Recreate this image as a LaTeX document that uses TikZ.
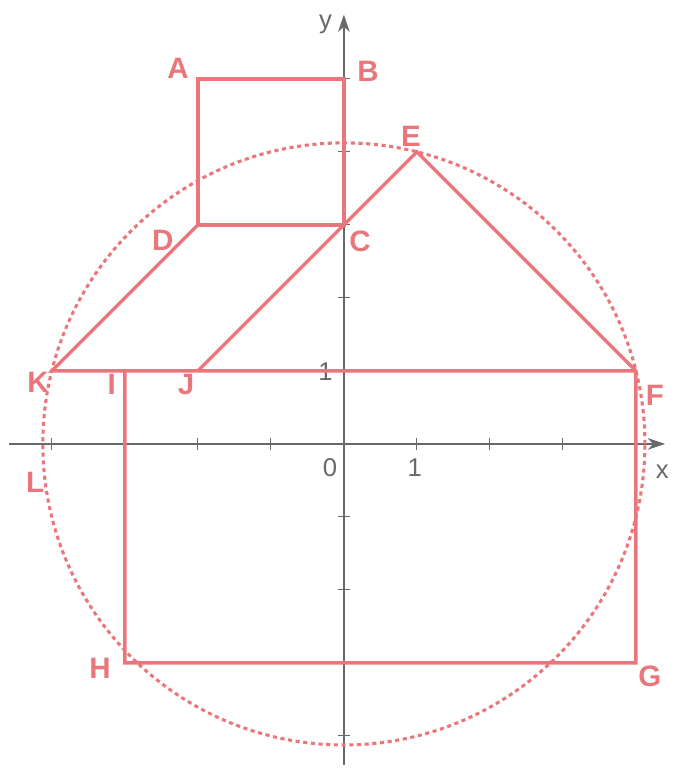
\documentclass[tikz,border=0pt]{standalone}
\usepackage{fontspec}
\setmainfont{Liberation Sans}
\usepackage{tikz}
\usetikzlibrary{arrows.meta}
\definecolor{figred}{RGB}{234, 118, 124}
\definecolor{axisgray}{RGB}{105, 105, 105}

\begin{document}
\begin{tikzpicture}[
    figline/.style={figred, line width=1.35pt},
    ptlabel/.style={text=figred, font=\bfseries\fontsize{11.5}{13}\selectfont, inner sep=1pt},
    axlabel/.style={text=axisgray, font=\fontsize{10}{12}\selectfont, inner sep=1pt}
  ]
    \useasboundingbox (-4.71,-4.48) rectangle (4.51,6.08);

    % Axes
    \coordinate (O) at (0,0);
    \coordinate (xs) at (-4.58,0);
    \coordinate (xe) at (4.40,0);
    \coordinate (ys) at (0,-4.40);
    \coordinate (ye) at (0,5.88);
    \draw[axisgray, line width=0.5pt, -{Stealth[length=2.4mm, width=1.6mm]}] (xs) -- (xe);
    \draw[axisgray, line width=0.5pt, -{Stealth[length=2.4mm, width=1.6mm]}] (ys) -- (ye);
    \foreach \x in {-4,...,4} {
        \draw[axisgray, line width=0.4pt] (\x,0.08) -- (\x,-0.08);
    }
    \foreach \y in {-4,...,5} {
        \draw[axisgray, line width=0.4pt] (0.08,\y) -- (-0.08,\y);
    }
    \node[axlabel] (xlab) at (4.36,-0.38) {x};
    \node[axlabel] (ylab) at (-0.25,5.74) {y};
    \node[axlabel] (zero) at (-0.19,-0.33) {0};
    \node[axlabel] (onex) at (0.97,-0.33) {1};
    \node[axlabel] (oney) at (-0.25,0.99) {1};

    % Points
    \foreach \n/\x/\y in {A/-2/5, B/0/5, C/0/3, D/-2/3, E/1/4, F/4/1, G/4/-3, H/-3/-3, I/-3/1, J/-2/1, K/-4/1} {
        \coordinate (\n) at (\x,\y);
    }

    % Circle
    \draw[figline, line width=1.2pt, dash pattern=on 1.6pt off 1.4pt] (O) circle ({sqrt(17)});

    % Figure
    \draw[figline] (A) -- (B) -- (C) -- (D) -- cycle;
    \draw[figline] (D) -- (K) -- (F);
    \draw[figline] (J) -- (C) -- (E) -- (F) -- (G) -- (H) -- (I);

    % Labels
    \foreach \n/\x/\y in {A/-2.27/5.15, B/0.33/5.10, C/0.22/2.78, D/-2.48/2.79, E/0.92/4.21, F/4.26/0.67, G/4.19/-3.18, H/-3.34/-3.07, I/-3.18/0.81, J/-2.16/0.81, K/-4.19/0.84, L/-4.23/-0.52} {
        \node[ptlabel] (l\n) at (\x,\y) {\n};
    }
\end{tikzpicture}
\end{document}
